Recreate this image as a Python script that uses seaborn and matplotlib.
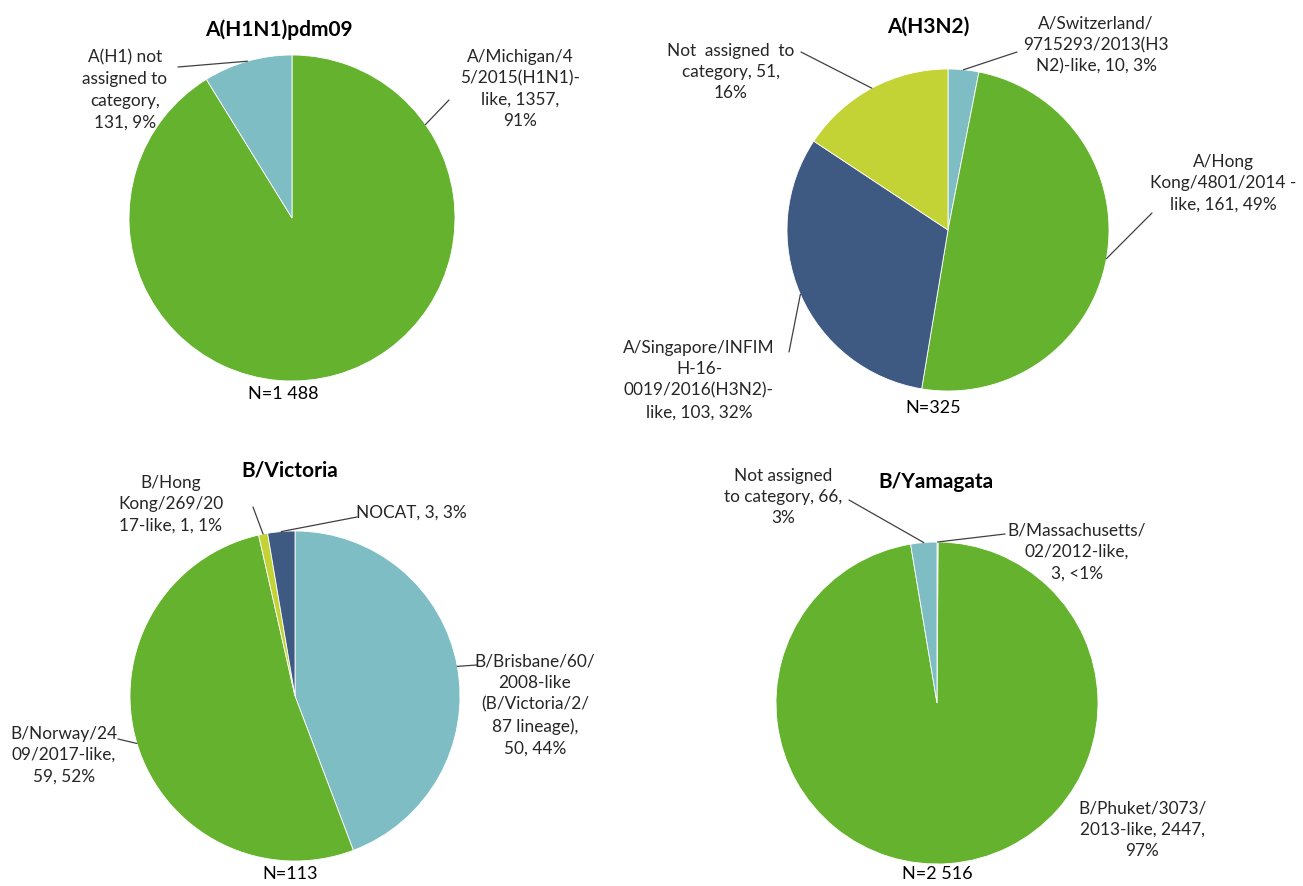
import numpy as np
import matplotlib
matplotlib.use("Agg")
import matplotlib.pyplot as plt
import seaborn as sns

# ---- data -------------------------------------------------------------
h1_labels = ["A/Michigan/4\n5/2015(H1N1)-\nlike, {n},\n{p}",
             "A(H1) not\nassigned to\ncategory,\n{n}, {p}"]
h1_counts = [1357, 131]
h1_pcts = ["91%", "9%"]

h3_labels = ["A/Switzerland/\n9715293/2013(H3\nN2)-like, {n}, {p}",
             "A/Hong\nKong/4801/2014 -\nlike, {n}, {p}",
             "A/Singapore/INFIM\nH-16-\n0019/2016(H3N2)-\nlike, {n}, {p}",
             "Not  assigned  to\ncategory, {n},\n{p}"]
h3_counts = [10, 161, 103, 51]
h3_pcts = ["3%", "49%", "32%", "16%"]

vic_labels = ["B/Brisbane/60/\n2008-like\n(B/Victoria/2/\n87 lineage),\n{n}, {p}",
              "B/Norway/24\n09/2017-like,\n{n}, {p}",
              "B/Hong\nKong/269/20\n17-like, {n}, {p}",
              "NOCAT, {n}, {p}"]
vic_counts = [50, 59, 1, 3]
vic_pcts = ["44%", "52%", "1%", "3%"]

yam_labels = ["B/Massachusetts/\n02/2012-like,\n{n}, {p}",
              "B/Phuket/3073/\n2013-like, {n},\n{p}",
              "Not assigned\nto category, {n},\n{p}"]
yam_counts = [3, 2447, 66]
yam_pcts = ["<1%", "97%", "3%"]

titles = ["A(H1N1)pdm09", "A(H3N2)", "B/Victoria", "B/Yamagata"]
totals = ["N=1 488", "N=325", "N=113", "N=2 516"]

# ---- style ------------------------------------------------------------
GREEN, TEAL, NAVY, LIME, GREY = "#65B22E", "#7EBDC4", "#3E5A82", "#C3D336", "#A5A5A5"
h1_colors = [GREEN, TEAL]
h3_colors = [TEAL, GREEN, NAVY, LIME]
vic_colors = [TEAL, GREEN, LIME, NAVY]
yam_colors = [GREY, GREEN, TEAL]

sns.set_theme(style="white")
plt.rcParams["font.family"] = ["Lato", "DejaVu Sans"]

W, H = 1303, 887
fig = plt.figure(figsize=(W / 100, H / 100), dpi=100)
fig.patch.set_facecolor("white")


def fpos(x, y):
    """pixel position (top-left origin) -> figure fraction"""
    return x / W, 1 - y / H


LABEL_FS = 12.4
LEADER = dict(arrowstyle="-", color="#404040", lw=0.9, shrinkA=0, shrinkB=0)

# layout per panel: pie centre/radius in pixels, title, N label,
# and for every slice: label centre, leader start, leader anchor angle
panels = [
    dict(labels=h1_labels, counts=h1_counts, pcts=h1_pcts, colors=h1_colors,
         center=(292, 219), r=163, title_xy=(279, 30), n_xy=(283, 394),
         text=[(520, 89), (125, 90)],
         lead=[(449, 101), (178, 68)],
         angle=[35, None]),
    dict(labels=h3_labels, counts=h3_counts, pcts=h3_pcts, colors=h3_colors,
         center=(948, 231), r=161, title_xy=(928, 27), n_xy=(933, 408),
         text=[(1096, 45), (1223, 183), (699, 380), (731, 72)],
         lead=[(1017, 53), (1152, 214), (789, 353), (801, 53)],
         angle=[None, None, None, None]),
    dict(labels=vic_labels, counts=vic_counts, pcts=vic_pcts, colors=vic_colors,
         center=(295, 697), r=165, title_xy=(290, 471), n_xy=(290, 874),
         text=[(535, 705), (64, 755), (171, 504), (411, 513)],
         lead=[(477, 666), (118, 740), (253, 508), (357, 518)],
         angle=[None, None, None, None]),
    dict(labels=yam_labels, counts=yam_counts, pcts=yam_pcts, colors=yam_colors,
         center=(937, 704), r=161, title_xy=(936, 482), n_xy=(937, 874),
         text=[(1077, 552), (1142, 830), (783, 497)],
         lead=[(1005, 535), None, (849, 501)],
         angle=[None, None, None]),
]

for i, p in enumerate(panels):
    cx, cy = p["center"]
    r = p["r"]
    ax = fig.add_axes([(cx - r) / W, 1 - (cy + r) / H, 2 * r / W, 2 * r / H])
    wedges, _ = ax.pie(p["counts"], colors=p["colors"], startangle=90,
                       counterclock=False, radius=1.0,
                       wedgeprops=dict(edgecolor="white", linewidth=0.6))
    ax.set_xlim(-1, 1)
    ax.set_ylim(-1, 1)
    ax.set_aspect("equal")
    ax.axis("off")

    fig.text(*fpos(*p["title_xy"]), titles[i], ha="center", va="center",
             fontsize=15, fontweight="bold", color="black")
    fig.text(*fpos(*p["n_xy"]), totals[i], ha="center", va="center",
             fontsize=13, color="black")

    for j, w in enumerate(wedges):
        txt = p["labels"][j].format(n=p["counts"][j], p=p["pcts"][j])
        fig.text(*fpos(*p["text"][j]), txt, ha="center", va="center",
                 fontsize=LABEL_FS, color="#262626", linespacing=1.42,
                 multialignment="center")
        start = p["lead"][j]
        if start is None:
            continue
        ang = p["angle"][j]
        if ang is None:
            ang = (w.theta1 + w.theta2) / 2
        a = np.deg2rad(ang)
        ax.annotate("", xy=(np.cos(a), np.sin(a)), xycoords="data",
                    xytext=fpos(*start), textcoords="figure fraction",
                    arrowprops=LEADER, annotation_clip=False)

fig.savefig("out.png", dpi=100, facecolor="white")
